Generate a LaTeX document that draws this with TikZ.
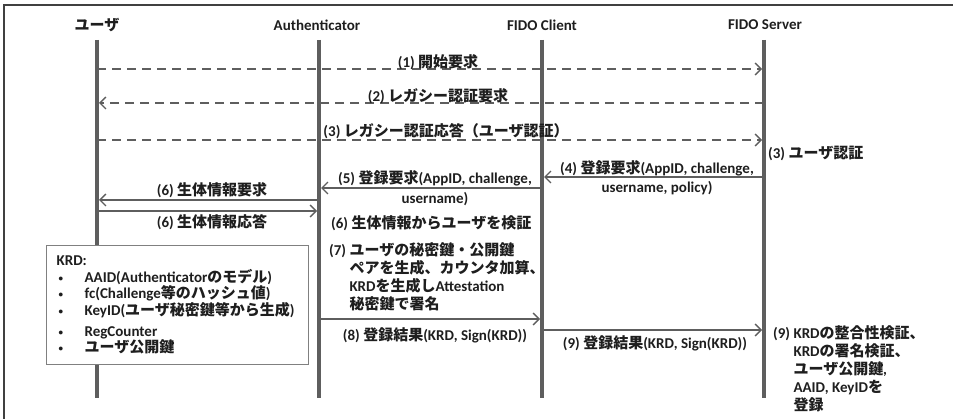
\documentclass[tikz,border=0pt]{standalone}
\usepackage{fontspec}
\setmainfont{Carlito}
\newfontfamily\jp{Noto Sans CJK JP}
\usetikzlibrary{arrows.meta}
\definecolor{lg}{HTML}{5E5E5E}
\definecolor{tx}{HTML}{1E1E1E}
\definecolor{bx}{HTML}{808080}
\newcommand\J[1]{{\jp #1}}
\newcommand\fs{\fontsize{15}{18}\selectfont\bfseries}
\newcommand\bul{\makebox[28pt][l]{\hspace{2pt}\raisebox{1pt}{\fontsize{9}{9}\selectfont •}}}
\begin{document}
\begin{tikzpicture}[x=1pt,y=-1pt,
  life/.style={line width=4pt,draw=lg},
  msg/.style={line width=1.8pt,draw=lg,-{Straight Barb[length=6pt,width=12pt,line width=1.4pt]},shorten >=2pt},
  dmsg/.style={msg,dash pattern=on 9pt off 6pt},
  lbl/.style={font=\fs,text=tx,inner sep=0pt},
  kbox/.style={draw=bx,line width=1.2pt,fill=white,font=\fontsize{15}{16.7}\selectfont\bfseries,text=tx,
    anchor=north west,minimum width=262pt,minimum height=119pt,text width=242pt,inner xsep=10pt,inner ysep=0pt,align=left}]
\useasboundingbox (0,0) rectangle (953,419);
% frame
\draw[line width=2pt,draw=tx!85] (4,430) -- (4,5) -- (960,5);
% coordinates
\foreach \n/\x in {U/97,A/319,C/542,S/764}{
  \coordinate (\n top) at (\x,40);
  \coordinate (\n bot) at (\x,398);
  \foreach \y in {69,103,140,177,188,200,211,319,330}{\coordinate (\n\y) at (\x,\y);}
}
% headers
\node[lbl] (hU) at (97,25) {\J{ユーザ}};
\node[lbl] (hA) at (317,25) {Authenticator};
\node[lbl] (hC) at (542,25) {FIDO Client};
\node[lbl] (hS) at (765,25) {FIDO Server};
% lifelines
\foreach \n in {U,A,C,S}{\draw[life] (\n top) -- (\n bot);}
% messages
\draw[dmsg] (U69) -- (S69);
\draw[dmsg] (S103) -- (U103);
\draw[dmsg] (U140) -- (S140);
\draw[msg] (S177) -- (C177);
\draw[msg] (C188) -- (A188);
\draw[msg] (A200) -- (U200);
\draw[msg] (U211) -- (A211);
\draw[msg] (A319) -- (C319);
\draw[msg] (C330) -- (S330);
% KRD box
\node[kbox] (krd) at (46,245) {KRD:\\
\bul AAID(Authenticator\J{のモデル})\\
\bul fc(Challenge\J{等のハッシュ値})\\
\bul KeyID(\J{ユーザ秘密鍵等から生成})\\[4pt]
\bul RegCounter\\
\bul \J{ユーザ公開鍵}};
% labels
\node[lbl] (l1) at (438,62) {(1) \J{開始要求}};
\node[lbl] (l2) at (438,96) {(2) \J{レガシー認証要求}};
\node[lbl] (l3) at (446,131) {(3) \J{レガシー認証応答（ユーザ認証）}};
\node[lbl,anchor=west] (l3s) at (768,153) {(3) \J{ユーザ認証}};
\node[lbl,align=center] (l4) at (657,177.5) {(4) \J{登録要求}(AppID, challenge,\\[1pt] username, policy)};
\node[lbl,align=center] (l5) at (435,188) {(5) \J{登録要求}(AppID, challenge,\\[2pt] username)};
\node[lbl] (l6a) at (212,190) {(6) \J{生体情報要求}};
\node[lbl] (l6b) at (212,222) {(6) \J{生体情報応答}};
\node[lbl,anchor=west] (l6c) at (331,223) {(6) \J{生体情報からユーザを検証}};
\node[lbl,align=left,anchor=north west] (l7) at (329,242) {(7) \J{ユーザの秘密鍵・公開鍵}\\
\phantom{(7) }\J{ペアを生成、カウンタ加算、}\\
\phantom{(7) }KRD\J{を生成し}Attestation\\
\phantom{(7) }\J{秘密鍵で署名}};
\node[lbl] (l8) at (435,335) {(8) \J{登録結果}(KRD, Sign(KRD))};
\node[lbl] (l9) at (655,343) {(9) \J{登録結果}(KRD, Sign(KRD))};
\node[lbl,align=left,anchor=north west] (l9r) at (773,325) {(9) KRD\J{の整合性検証、}\\
\phantom{(9) }KRD\J{の署名検証、}\\
\phantom{(9) }\J{ユーザ公開鍵},\\
\phantom{(9) }AAID, KeyID\J{を}\\
\phantom{(9) }\J{登録}};
\end{tikzpicture}
\end{document}
